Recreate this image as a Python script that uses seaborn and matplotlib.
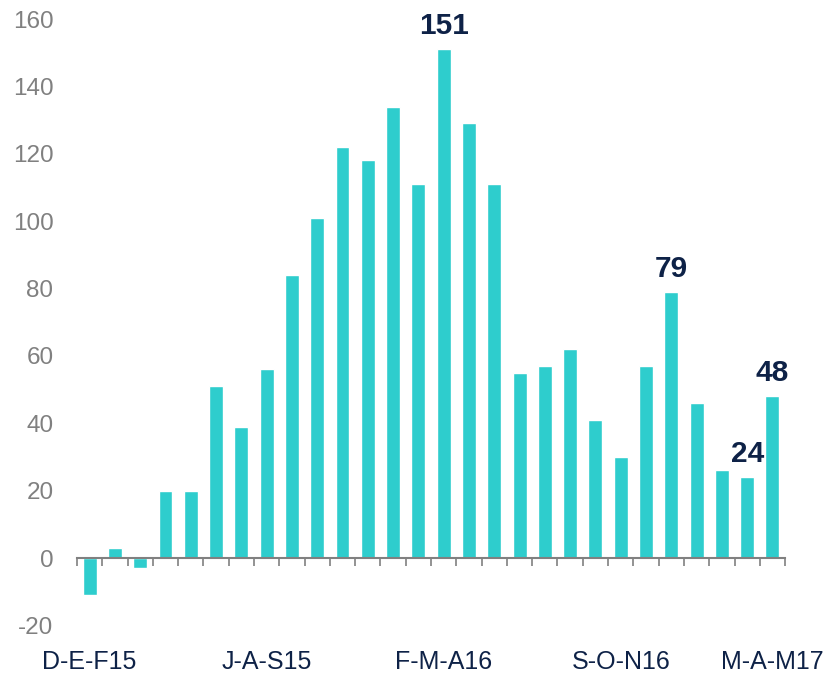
import numpy as np
import matplotlib
matplotlib.use("Agg")
import matplotlib.pyplot as plt
import seaborn as sns

# Periodos trimestrales moviles
periods = ["D-E-F15", "E-F-M15", "F-M-A15", "M-A-M15", "A-M-J15", "M-J-J15", "J-J-A15",
           "J-A-S15", "A-S-O15", "S-O-N15", "O-N-D15", "N-D-E16", "D-E-F16", "E-F-M16",
           "F-M-A16", "M-A-M16", "A-M-J16", "M-J-J16", "J-J-A16", "J-A-S16", "A-S-O16",
           "S-O-N16", "O-N-D16", "N-D-E17", "D-E-F17", "E-F-M17", "F-M-A17", "M-A-M17"]
values = [-11, 3, -3, 20, 20, 51, 39, 56, 84, 101, 122, 118, 134, 111,
          151, 129, 111, 55, 57, 62, 41, 30, 57, 79, 46, 26, 24, 48]
shown_labels = ["D-E-F15", "J-A-S15", "F-M-A16", "S-O-N16", "M-A-M17"]
highlight = ["F-M-A16", "N-D-E17", "F-M-A17", "M-A-M17"]

teal = "#2ECDCD"
navy = "#0E2247"
grey = "#808080"

sns.set_style("white")
plt.rcParams["font.family"] = ["Liberation Sans", "DejaVu Sans"]
plt.rcParams["axes.unicode_minus"] = False

fig = plt.figure(figsize=(8.36, 6.74), dpi=100)
ax = fig.add_axes([0.0921, 0.0721, 0.847, 0.8997])

sns.barplot(x=periods, y=values, color=teal, width=0.55, saturation=1, ax=ax)

ax.set_xlim(-0.5, len(periods) - 0.5)
ax.set_ylim(-20, 160)
ax.set_yticks(np.arange(-20, 161, 20))

for s in ["top", "right", "left"]:
    ax.spines[s].set_visible(False)
ax.spines["bottom"].set_position(("data", 0))
ax.spines["bottom"].set_color(grey)
ax.spines["bottom"].set_linewidth(1.5)

# etiquetas del eje x solo cada 7 periodos
ticks = [periods.index(p) for p in shown_labels]
ax.set_xticks(ticks)
ax.set_xticklabels(shown_labels)
ax.set_xticks(np.arange(-0.5, len(periods), 1), minor=True)
ax.tick_params(axis="x", which="both", bottom=True)
ax.tick_params(axis="x", which="major", length=0, pad=66, labelsize=18, labelcolor=navy)
ax.tick_params(axis="x", which="minor", length=6, width=1.2, color=grey, direction="out")
ax.tick_params(axis="y", length=0, pad=17, labelsize=17.5, labelcolor=grey)
ax.set_xlabel("")
ax.set_ylabel("")

for p in highlight:
    i = periods.index(p)
    ax.annotate(str(values[i]), xy=(i, values[i]), xytext=(0, 11), textcoords="offset points",
                ha="center", va="baseline", fontsize=21.5, fontweight="bold", color=navy)

fig.savefig("out.png", dpi=100)
